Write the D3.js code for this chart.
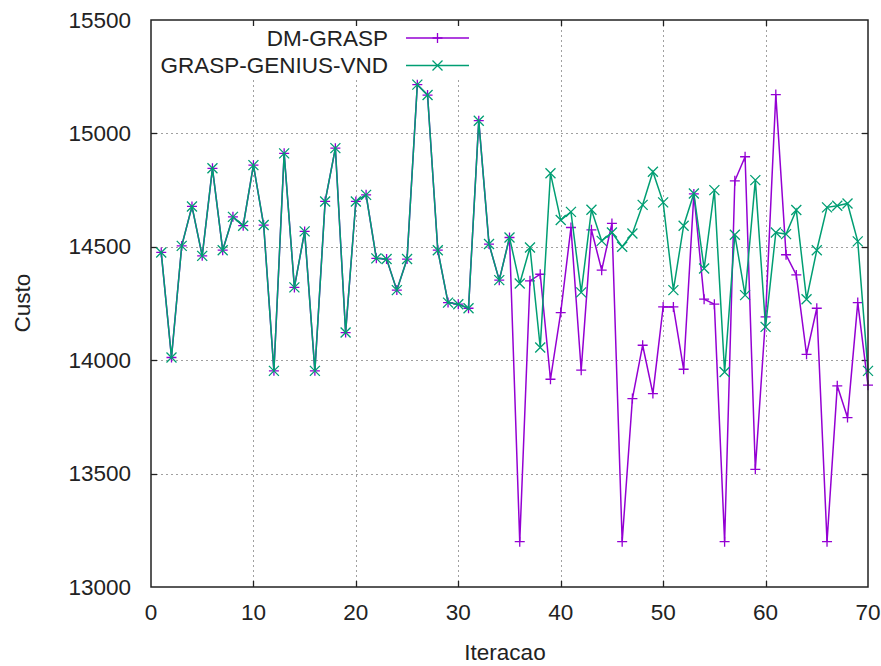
<!DOCTYPE html>
<html>
<head>
<meta charset="utf-8">
<script src="https://cdn.jsdelivr.net/npm/d3@7"></script>
<style>
  body { margin: 0; background: #fff; }
  svg { display: block; font-family: "Liberation Sans", Arial, sans-serif; }
</style>
</head>
<body>
<svg id="chart" width="881" height="666"></svg>
<script>
// Iterations 1..70
const ITERS = d3.range(1, 71);

const DM_GRASP = [
  14475, 14012, 14504, 14678, 14460, 14846, 14485, 14632, 14593, 14860,
  14596, 13953, 14912, 14321, 14568, 13953, 14700, 14935, 14122, 14700,
  14729, 14449, 14446, 14309, 14446, 15215, 15169, 14485, 14254, 14247,
  14229, 15056, 14512, 14353, 14541, 13200, 14350, 14379, 13916, 14210,
  14585, 13956, 14575, 14397, 14603, 13200, 13831, 14066, 13853, 14235,
  14235, 13960, 14733, 14269, 14247, 13200, 14791, 14897, 13519, 14191,
  15171, 14465, 14376, 14026, 14229, 13200, 13887, 13747, 14254, 13890,
];

const GRASP_GENIUS_VND = [
  14475, 14012, 14504, 14678, 14460, 14846, 14485, 14632, 14593, 14860,
  14596, 13953, 14912, 14321, 14568, 13953, 14700, 14935, 14122, 14700,
  14729, 14449, 14446, 14309, 14446, 15215, 15169, 14485, 14254, 14247,
  14229, 15056, 14512, 14353, 14541, 14338, 14497, 14056, 14824, 14618,
  14654, 14299, 14663, 14526, 14563, 14500, 14559, 14685, 14831, 14696,
  14309, 14593, 14735, 14404, 14750, 13948, 14553, 14287, 14794, 14147,
  14563, 14556, 14662, 14269, 14485, 14674, 14681, 14691, 14524, 13953,
];

const X_TICKS = [0, 10, 20, 30, 40, 50, 60, 70];
const Y_TICKS = [13000, 13500, 14000, 14500, 15000, 15500];

const SERIES = [
  { name: "DM-GRASP", values: DM_GRASP, color: "#9400d3", marker: "plus" },
  { name: "GRASP-GENIUS-VND", values: GRASP_GENIUS_VND, color: "#009e73", marker: "cross" },
];

// Plot box
const box = { left: 151, right: 868, top: 20, bottom: 587 };

const svg = d3.select("#chart");
const x = d3.scaleLinear().domain([0, 70]).range([box.left, box.right]);
const y = d3.scaleLinear().domain([13000, 15500]).range([box.bottom, box.top]);

// Grid
const grid = svg.append("g").attr("stroke", "#a0a0a0").attr("stroke-width", 1)
  .attr("stroke-dasharray", "2,3");
grid.selectAll(".gx").data(X_TICKS.slice(1, -1)).join("line")
  .attr("x1", d => Math.round(x(d)) + 0.5).attr("x2", d => Math.round(x(d)) + 0.5)
  .attr("y1", box.top).attr("y2", box.bottom);
grid.selectAll(".gy").data(Y_TICKS.slice(1, -1)).join("line")
  .attr("x1", box.left).attr("x2", box.right)
  .attr("y1", d => Math.round(y(d)) + 0.5).attr("y2", d => Math.round(y(d)) + 0.5);

// Legend background hides the grid behind the key
svg.append("rect").attr("x", box.left + 1).attr("y", box.top + 1)
  .attr("width", 323).attr("height", 59).attr("fill", "#fff");

// Ticks (inward, mirrored)
const tickLen = 6;
const ticks = svg.append("g").attr("stroke", "#222").attr("stroke-width", 1.3);
X_TICKS.slice(1, -1).forEach(d => {
  const px = Math.round(x(d)) + 0.5;
  ticks.append("line").attr("x1", px).attr("x2", px).attr("y1", box.bottom).attr("y2", box.bottom - tickLen);
  ticks.append("line").attr("x1", px).attr("x2", px).attr("y1", box.top).attr("y2", box.top + tickLen);
});
Y_TICKS.slice(1, -1).forEach(d => {
  const py = Math.round(y(d)) + 0.5;
  ticks.append("line").attr("x1", box.left).attr("x2", box.left + tickLen).attr("y1", py).attr("y2", py);
  ticks.append("line").attr("x1", box.right).attr("x2", box.right - tickLen).attr("y1", py).attr("y2", py);
});

// Tick labels
const labelFont = 22.5;
svg.append("g").selectAll("text").data(X_TICKS).join("text")
  .attr("x", d => x(d)).attr("y", 612).attr("text-anchor", "middle")
  .attr("dominant-baseline", "central").attr("font-size", labelFont).attr("fill", "#222")
  .text(d => d);
svg.append("g").selectAll("text").data(Y_TICKS).join("text")
  .attr("x", 131).attr("y", d => y(d)).attr("text-anchor", "end")
  .attr("dominant-baseline", "central").attr("font-size", labelFont).attr("fill", "#222")
  .text(d => d);

// Axis titles
svg.append("text").attr("transform", "translate(22,303) rotate(-90)").attr("text-anchor", "middle")
  .attr("dominant-baseline", "central").attr("font-size", labelFont).attr("fill", "#222")
  .text("Custo");
svg.append("text").attr("x", 505).attr("y", 652).attr("text-anchor", "middle")
  .attr("dominant-baseline", "central").attr("font-size", labelFont).attr("fill", "#222")
  .text("Iteracao");

// Markers
function drawMarker(g, cx, cy, type, color) {
  const s = 5;
  const p = type === "plus"
    ? `M${cx - s},${cy}H${cx + s}M${cx},${cy - s}V${cy + s}`
    : `M${cx - s},${cy - s}L${cx + s},${cy + s}M${cx - s},${cy + s}L${cx + s},${cy - s}`;
  g.append("path").attr("d", p).attr("stroke", color).attr("stroke-width", 1.3).attr("fill", "none");
}

const line = d3.line().x((d, i) => x(ITERS[i])).y(d => y(d));

SERIES.forEach((s, k) => {
  const g = svg.append("g");
  g.append("path").datum(s.values).attr("d", line)
    .attr("fill", "none").attr("stroke", s.color).attr("stroke-width", 1.5);
  s.values.forEach((v, i) => drawMarker(g, x(ITERS[i]), y(v), s.marker, s.color));

  // Legend entry
  const ly = 38 + k * 27.5;
  svg.append("text").attr("x", 388).attr("y", ly).attr("text-anchor", "end")
    .attr("dominant-baseline", "central").attr("font-size", labelFont).attr("fill", "#222")
    .text(s.name);
  svg.append("line").attr("x1", 406).attr("x2", 469).attr("y1", ly).attr("y2", ly)
    .attr("stroke", s.color).attr("stroke-width", 1.5);
  drawMarker(svg, 437.5, ly, s.marker, s.color);
});

// Frame on top
svg.append("rect").attr("x", box.left).attr("y", box.top).attr("width", box.right - box.left)
  .attr("height", box.bottom - box.top).attr("fill", "none").attr("stroke", "#222").attr("stroke-width", 1.5);
</script>
</body>
</html>
